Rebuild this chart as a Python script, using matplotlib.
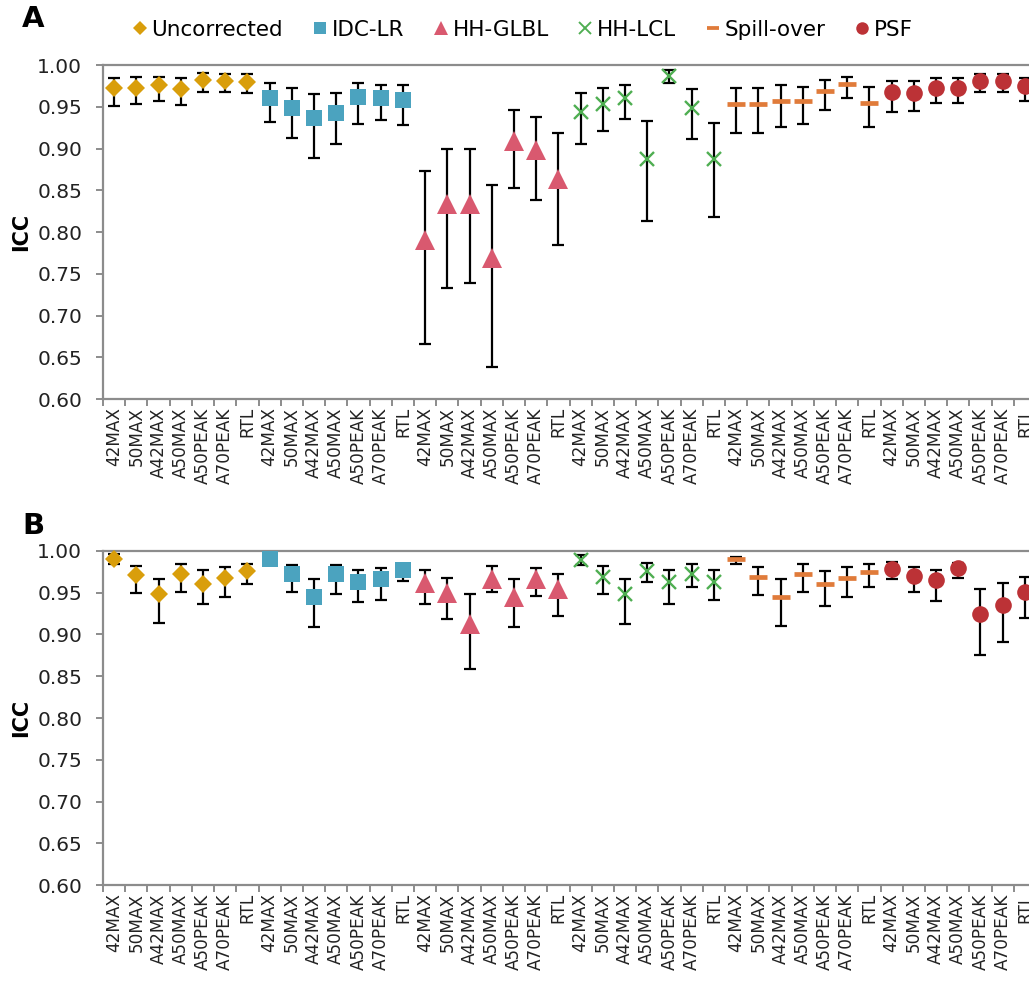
import numpy as np
import matplotlib
matplotlib.use("Agg")
import matplotlib.pyplot as plt
from matplotlib.lines import Line2D

plt.rcParams['font.family'] = ['DejaVu Sans']

categories = ["42MAX", "50MAX", "A42MAX", "A50MAX", "A50PEAK", "A70PEAK", "RTL"]
methods = ["Uncorrected", "IDC-LR", "HH-GLBL", "HH-LCL", "Spill-over", "PSF"]

# Panel A: ICC, upper and lower limits per method
unc_A = [0.972, 0.973, 0.976, 0.971, 0.982, 0.981, 0.980]
unc_A_hi = [0.984, 0.986, 0.986, 0.984, 0.990, 0.989, 0.989]
unc_A_lo = [0.951, 0.953, 0.957, 0.952, 0.968, 0.968, 0.966]
idc_A = [0.960, 0.948, 0.937, 0.942, 0.962, 0.960, 0.958]
idc_A_hi = [0.978, 0.972, 0.965, 0.966, 0.979, 0.976, 0.976]
idc_A_lo = [0.932, 0.912, 0.889, 0.905, 0.929, 0.934, 0.928]
glbl_A = [0.791, 0.834, 0.834, 0.769, 0.909, 0.898, 0.864]
glbl_A_hi = [0.873, 0.899, 0.899, 0.856, 0.946, 0.938, 0.918]
glbl_A_lo = [0.666, 0.733, 0.739, 0.638, 0.853, 0.838, 0.784]
lcl_A = [0.944, 0.953, 0.961, 0.888, 0.987, 0.949, 0.887]
lcl_A_hi = [0.967, 0.973, 0.976, 0.933, 0.994, 0.971, 0.931]
lcl_A_lo = [0.905, 0.921, 0.935, 0.813, 0.978, 0.911, 0.818]
spill_A = [0.953, 0.953, 0.957, 0.957, 0.969, 0.977, 0.955]
spill_A_hi = [0.973, 0.972, 0.976, 0.974, 0.982, 0.986, 0.974]
spill_A_lo = [0.919, 0.919, 0.926, 0.929, 0.946, 0.960, 0.926]
psf_A = [0.968, 0.967, 0.972, 0.972, 0.981, 0.981, 0.975]
psf_A_hi = [0.981, 0.981, 0.984, 0.984, 0.989, 0.989, 0.985]
psf_A_lo = [0.944, 0.945, 0.954, 0.954, 0.968, 0.968, 0.957]

# Panel B
unc_B = [0.991, 0.971, 0.948, 0.973, 0.961, 0.968, 0.976]
unc_B_hi = [0.996, 0.982, 0.967, 0.984, 0.977, 0.981, 0.985]
unc_B_lo = [0.985, 0.950, 0.914, 0.951, 0.936, 0.945, 0.960]
idc_B = [0.991, 0.972, 0.945, 0.972, 0.963, 0.967, 0.977]
idc_B_hi = [0.994, 0.983, 0.967, 0.983, 0.977, 0.980, 0.984]
idc_B_lo = [0.988, 0.951, 0.909, 0.948, 0.939, 0.941, 0.964]
glbl_B = [0.962, 0.950, 0.913, 0.967, 0.945, 0.966, 0.954]
glbl_B_hi = [0.977, 0.968, 0.948, 0.982, 0.967, 0.980, 0.972]
glbl_B_lo = [0.936, 0.918, 0.859, 0.951, 0.909, 0.946, 0.922]
lcl_B = [0.989, 0.969, 0.948, 0.976, 0.963, 0.972, 0.963]
lcl_B_hi = [0.995, 0.982, 0.967, 0.986, 0.977, 0.984, 0.977]
lcl_B_lo = [0.983, 0.949, 0.913, 0.963, 0.937, 0.957, 0.941]
spill_B = [0.991, 0.969, 0.945, 0.973, 0.961, 0.968, 0.975]
spill_B_hi = [0.993, 0.981, 0.966, 0.984, 0.976, 0.981, 0.984]
spill_B_lo = [0.984, 0.947, 0.910, 0.951, 0.934, 0.945, 0.957]
psf_B = [0.978, 0.970, 0.965, 0.980, 0.925, 0.935, 0.951]
psf_B_hi = [0.987, 0.981, 0.977, 0.986, 0.955, 0.962, 0.969]
psf_B_lo = [0.966, 0.951, 0.940, 0.968, 0.875, 0.891, 0.920]

yticks = [0.60, 0.65, 0.70, 0.75, 0.80, 0.85, 0.90, 0.95, 1.00]

colors = ["#D99E0B", "#4BA3BF", "#D9596F", "#4FAE52", "#E07B3A", "#BC3236"]
markers = ["D", "s", "^", "x", "_", "o"]
msizes = [9.2, 12, 14, 10, 12.5, 12]
mews = [0, 0, 0, 1.7, 3.4, 0]
legend_sizes = [7, 8.5, 10, 8, 9, 9]

panel_A = [(unc_A, unc_A_lo, unc_A_hi), (idc_A, idc_A_lo, idc_A_hi),
           (glbl_A, glbl_A_lo, glbl_A_hi), (lcl_A, lcl_A_lo, lcl_A_hi),
           (spill_A, spill_A_lo, spill_A_hi), (psf_A, psf_A_lo, psf_A_hi)]
panel_B = [(unc_B, unc_B_lo, unc_B_hi), (idc_B, idc_B_lo, idc_B_hi),
           (glbl_B, glbl_B_lo, glbl_B_hi), (lcl_B, lcl_B_lo, lcl_B_hi),
           (spill_B, spill_B_lo, spill_B_hi), (psf_B, psf_B_lo, psf_B_hi)]

W, H = 1029, 997
fig = plt.figure(figsize=(W / 100, H / 100), dpi=100)

def px_axes(left, top, right, bottom):
    return fig.add_axes([left / W, 1 - bottom / H, (right - left) / W, (bottom - top) / H])

axA = px_axes(103, 65, 1036, 399)
axB = px_axes(103, 551, 1036, 885)

labels_all = categories * len(methods)
n = len(labels_all)
spine_col = "#8C8C8C"

for ax, panel in [(axA, panel_A), (axB, panel_B)]:
    for i, (vals, lo, hi) in enumerate(panel):
        x = np.arange(len(categories)) + i * len(categories)
        v = np.array(vals)
        yerr = np.vstack([v - np.array(lo), np.array(hi) - v])
        ax.errorbar(x, v, yerr=yerr, fmt="none", ecolor="black", elinewidth=1.6,
                    capsize=4.5, capthick=1.6, zorder=2, clip_on=False)
        ax.plot(x, v, linestyle="none", marker=markers[i], markersize=msizes[i],
                color=colors[i], markeredgewidth=mews[i], zorder=3, clip_on=False)
    ax.set_xlim(-0.5, n - 0.5)
    ax.set_ylim(0.60, 1.00)
    ax.set_yticks(yticks)
    ax.set_yticklabels([f"{t:.2f}" for t in yticks], fontsize=14.5, color="#222222")
    ax.set_xticks(np.arange(n))
    ax.set_xticklabels(labels_all, rotation=90, fontsize=12.2, color="#222222")
    ax.set_xticks(np.arange(n + 1) - 0.5, minor=True)
    ax.tick_params(axis="x", which="major", length=0, pad=6)
    ax.tick_params(axis="x", which="minor", length=5, width=1.4, color=spine_col)
    ax.tick_params(axis="y", which="major", length=5, width=1.4, color=spine_col, pad=10)
    for s in ax.spines.values():
        s.set_color(spine_col)
        s.set_linewidth(1.6)
    ax.set_ylabel("ICC", fontsize=15, fontweight="bold", labelpad=4)

fig.text(22 / W, 1 - 19 / H, "A", fontsize=21, fontweight="bold", va="center", ha="left")
fig.text(22 / W, 1 - 526 / H, "B", fontsize=21, fontweight="bold", va="center", ha="left")

handles = []
for i, m in enumerate(methods):
    handles.append(Line2D([], [], linestyle="none", marker=markers[i],
                          markersize=legend_sizes[i], color=colors[i],
                          markeredgewidth=mews[i] * 0.8))
fig.legend(handles, methods, loc="center", bbox_to_anchor=(522 / W, 1 - 30 / H),
           ncol=6, frameon=False, fontsize=15.5, handlelength=0.8, handletextpad=0.15,
           columnspacing=1.3, borderaxespad=0)

fig.savefig("out.png", dpi=100)
